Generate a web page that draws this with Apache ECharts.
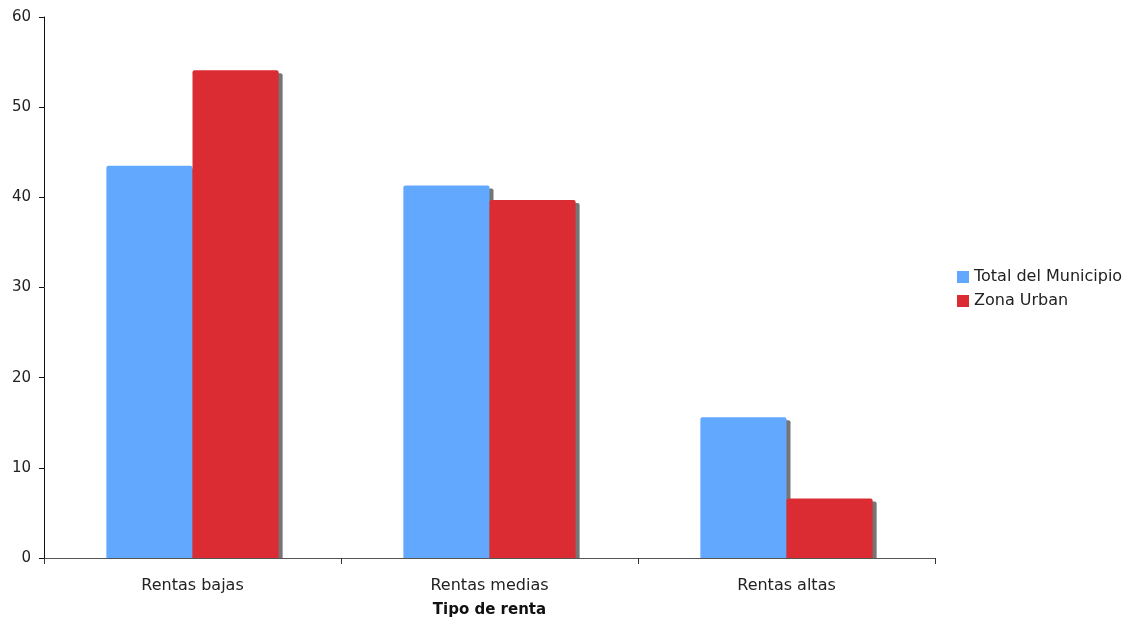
<!DOCTYPE html>
<html><head><meta charset="utf-8">
<script src="https://cdn.jsdelivr.net/npm/echarts@6/dist/echarts.min.js"></script>
<style>html,body{margin:0;padding:0;background:#fff}#c{width:1133px;height:618px}</style>
</head><body><div id="c"></div>
<script>
const categories = ["Rentas bajas", "Rentas medias", "Rentas altas"];
const totalMunicipio = [43.5, 41.3, 15.6];
const zonaUrban = [54.1, 39.7, 6.6];
const yTicks = [0, 10, 20, 30, 40, 50, 60];

const chart = echarts.init(document.getElementById('c'), null, {renderer: 'canvas'});
const font = '"DejaVu Sans", Verdana, sans-serif';
const barStyle = (c) => ({color: c, borderRadius: [2,2,0,0], shadowColor: 'rgba(110,110,110,0.95)', shadowOffsetX: 4, shadowOffsetY: 3, shadowBlur: 0});
chart.setOption({
  animation: false,
  grid: {left: 44, right: 198, top: 17, bottom: 60, containLabel: false, outerBoundsMode: 'none'},
  graphic: [{type: 'rect', left: 45, top: 559, shape: {width: 889, height: 6}, style: {fill: '#fff'}, z: 5}],
  legend: {
    orient: 'vertical', left: 952, top: 263, itemWidth: 12, itemHeight: 12, itemGap: 6, icon: 'rect',
    textStyle: {fontFamily: font, fontSize: 16, color: '#222', lineHeight: 18},
    data: ['Total del Municipio', 'Zona Urban']
  },
  xAxis: {
    type: 'category', data: categories, z: 10,
    name: 'Tipo de renta', nameLocation: 'middle', nameGap: 45,
    nameTextStyle: {fontFamily: font, fontSize: 15, fontWeight: 'bold', color: '#111'},
    axisLine: {lineStyle: {color: '#555', width: 1}},
    axisTick: {show: true, length: 6, lineStyle: {color: '#333'}},
    axisLabel: {fontFamily: font, fontSize: 16, color: '#222', margin: 20}
  },
  yAxis: {
    type: 'value', min: yTicks[0], max: yTicks[yTicks.length-1], interval: 10, z: 10,
    axisLine: {show: true, lineStyle: {color: '#111'}},
    axisTick: {show: true, length: 5, lineStyle: {color: '#111'}},
    splitLine: {show: false},
    axisLabel: {fontFamily: font, fontSize: 15, color: '#222', margin: 13}
  },
  series: [
    {name: 'Total del Municipio', type: 'bar', data: totalMunicipio, barGap: '0%', barCategoryGap: '42%', itemStyle: barStyle('#62A8FF'), z: 2},
    {name: 'Zona Urban', type: 'bar', data: zonaUrban, itemStyle: barStyle('#DC2C33'), z: 3}
  ]
});
</script></body></html>
